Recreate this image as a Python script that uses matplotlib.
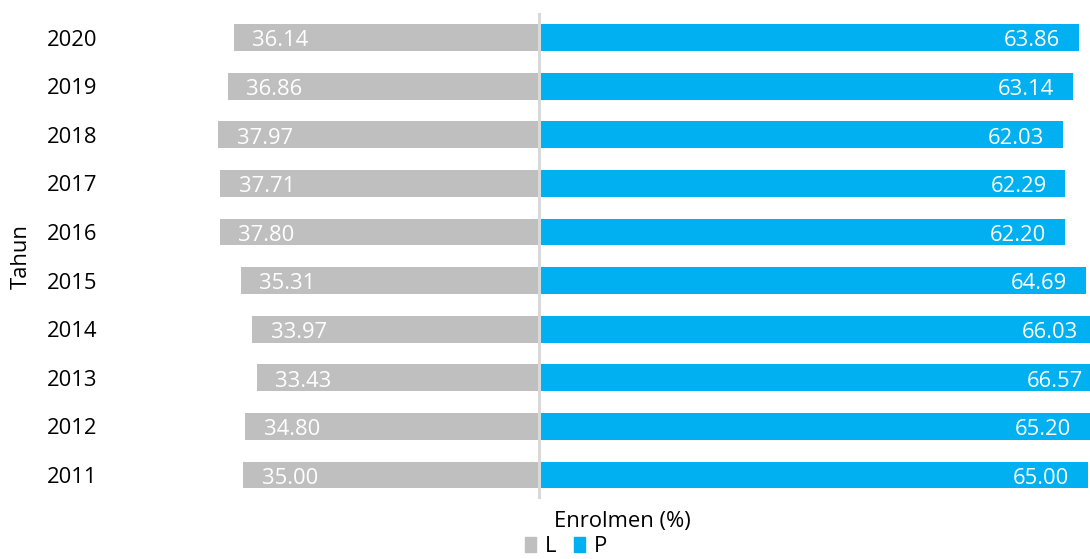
import matplotlib
matplotlib.use("Agg")
import matplotlib.pyplot as plt
from matplotlib.patches import Patch

plt.rcParams['font.family'] = ['Open Sans', 'DejaVu Sans']

years = [2011, 2012, 2013, 2014, 2015, 2016, 2017, 2018, 2019, 2020]
L = [35.00, 34.80, 33.43, 33.97, 35.31, 37.80, 37.71, 37.97, 36.86, 36.14]
P = [65.00, 65.20, 66.57, 66.03, 64.69, 62.20, 62.29, 62.03, 63.14, 63.86]

grey = '#bfbfbf'
blue = '#00b0f0'
fs = 15.8

fig = plt.figure(figsize=(10.9, 5.59), dpi=100)
W, H = 1090, 559
# axes runs past the right edge on purpose, the longest blue bars get cut
ax = fig.add_axes([110 / W, (H - 499.3) / H, 1010 / W, 486 / H])

pos = list(range(len(years)))
ax.barh(pos, [-v for v in L], height=0.55, color=grey)
ax.barh(pos, P, height=0.55, color=blue)
ax.axvline(0, color='#d9d9d9', lw=2.2, zorder=5)

for i in pos:
    ax.annotate('%.2f' % L[i], (-L[i], i), xytext=(13.5, -6.3), textcoords='offset points',
                ha='left', va='baseline', color='white', fontsize=fs)
    ax.annotate('%.2f' % P[i], (P[i], i), xytext=(-13.5, -6.3), textcoords='offset points',
                ha='right', va='baseline', color='white', fontsize=fs)

ax.set_xlim(-(539 - 110) / 8.45, (1120 - 539) / 8.45)
ax.set_ylim(-0.5, 9.5)
ax.set_yticks(pos)
ax.set_yticklabels([str(y) for y in years], fontsize=fs)
ax.tick_params(axis='y', length=0, pad=9.4)
ax.set_xticks([])
for s in ax.spines.values():
    s.set_visible(False)

fig.text(21 / W, 1 - 257 / H, 'Tahun', rotation=90, ha='center', va='center', fontsize=fs)
fig.text(622 / W, 1 - 522 / H, 'Enrolmen (%)', ha='center', va='center', fontsize=fs)

handles = [Patch(color=grey, label='L'), Patch(color=blue, label='P')]
fig.legend(handles=handles, loc='upper center', bbox_to_anchor=(566 / W, 1 - 536 / H),
           ncol=2, frameon=False, fontsize=fs, handlelength=0.5, handleheight=0.65,
           handletextpad=0.4, columnspacing=0.8, borderpad=0, borderaxespad=0)

fig.savefig('out.png', dpi=100)
